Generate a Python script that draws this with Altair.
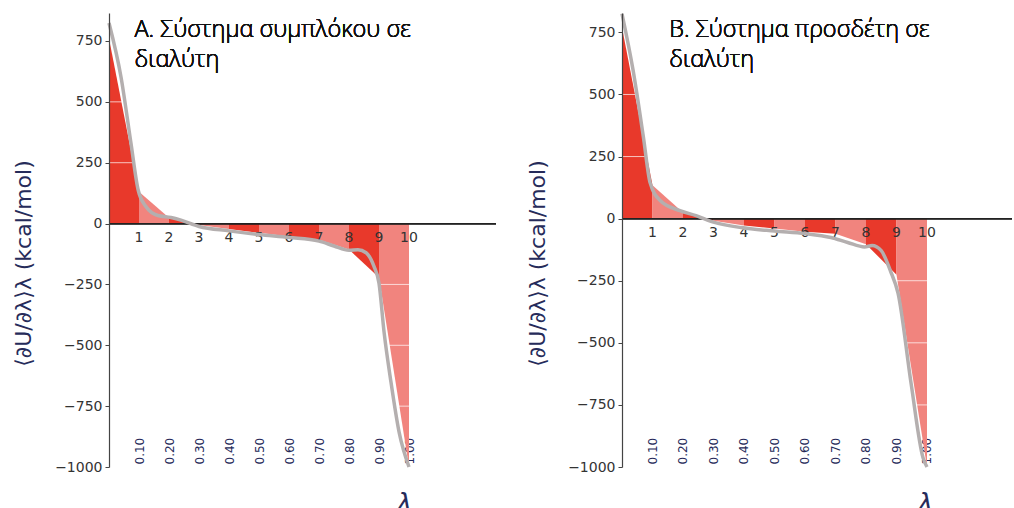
import altair as alt
import pandas as pd

# ---------------- data ----------------
lam = [0.0, 0.1, 0.2, 0.3, 0.4, 0.5, 0.6, 0.7, 0.8, 0.9, 1.0]
step_labels = ["1", "2", "3", "4", "5", "6", "7", "8", "9", "10"]
y_ticks = [-1000, -750, -500, -250, 0, 250, 500, 750]
grid_vals = [-750, -500, -250, 250, 500, 750]

# trapezoid (integration) points
a_points = [760, 131, 24, -6, -22, -38, -53, -66, -107, -222, -1000]
b_points = [770, 134, 25, -8, -28, -40, -53, -61, -103, -226, -1000]

# smooth grey curve
a_curve_lam = [0.0, 0.04, 0.073, 0.097, 0.123, 0.163, 0.207, 0.24, 0.3, 0.4, 0.5, 0.6,
               0.7, 0.75, 0.8, 0.83, 0.857, 0.883, 0.9, 0.917, 0.94, 0.967, 1.0]
a_curve_val = [824, 602, 332, 139, 70, 33, 25, 14, -12, -30, -45, -57,
               -72, -92, -110, -108, -120, -175, -245, -447, -652, -857, -1000]
b_curve_lam = [0.0, 0.036, 0.07, 0.092, 0.125, 0.19, 0.243, 0.3, 0.39, 0.5, 0.6,
               0.685, 0.74, 0.795, 0.82, 0.85, 0.88, 0.905, 0.948, 0.987, 1.0]
b_curve_val = [825, 600, 330, 145, 73, 32, 12, -14, -36, -50, -60,
               -76, -96, -114, -108, -129, -210, -300, -665, -963, -1000]

title_a = "A. Σύστημα συμπλόκου σε\nδιαλύτη"
title_b = "B. Σύστημα προσδέτη σε\nδιαλύτη"
y_title = "⟨∂U/∂λ⟩λ (kcal/mol)"

DARK = "#e8392b"
LIGHT = "#f1847e"
GREY = "#b4afaf"
NAVY = "#262b5a"
HEIGHT = 454


def panel(points, c_lam, c_val, title, y_top, width, x_max, t_lam, t_val, ypad, lam_x):
    rows = []
    for i in range(len(lam) - 1):
        shade = "dark" if i % 2 == 0 else "light"
        rows.append({"lam": lam[i], "val": points[i], "seg": i, "shade": shade})
        rows.append({"lam": lam[i + 1], "val": points[i + 1], "seg": i, "shade": shade})
    seg_df = pd.DataFrame(rows)
    curve_df = pd.DataFrame({"lam": c_lam, "val": c_val})
    lab_df = pd.DataFrame({"lam": lam[1:], "lab": step_labels})
    grid_df = pd.DataFrame({"v": grid_vals})

    xs = alt.Scale(domain=[0, x_max], nice=False, zero=False)
    ys = alt.Scale(domain=[-1000, y_top], nice=False, zero=False)

    x_axis = alt.Axis(values=lam[1:], format=".2f", labelAngle=270, labelAlign="left",
                      labelBaseline="middle", offset=-3, labelPadding=0, ticks=False,
                      domain=False, grid=False, labelFontSize=12, labelColor=NAVY,
                      labelFont="DejaVu Sans", title="λ", titleFontSize=26,
                      titleFont="DejaVu Sans", titleFontStyle="italic",
                      titleFontWeight="normal", titleColor=NAVY, titleX=lam_x,
                      titleY=26, titleBaseline="top", titleAlign="center")
    y_axis = alt.Axis(values=y_ticks, format="d", grid=False, domainColor="#444",
                      domainWidth=1.2, tickColor="#444", tickSize=4, labelFontSize=14,
                      labelColor="#333", labelFont="DejaVu Sans", labelPadding=3,
                      title=y_title, titleFontSize=22, titleFont="DejaVu Sans",
                      titleFontWeight="normal", titleColor=NAVY, titleY=250,
                      titlePadding=ypad, zindex=1)

    areas = alt.Chart(seg_df).mark_area(opacity=1).encode(
        x=alt.X("lam:Q", scale=xs, axis=x_axis),
        y=alt.Y("val:Q", scale=ys, axis=y_axis),
        y2=alt.datum(0),
        detail="seg:N",
        color=alt.Color("shade:N", scale=alt.Scale(domain=["dark", "light"],
                                                   range=[DARK, LIGHT]), legend=None),
    )
    grid = alt.Chart(grid_df).mark_rule(color="white", strokeWidth=1, opacity=0.7).encode(
        y="v:Q", x=alt.datum(0.0), x2=alt.datum(x_max))
    zero = alt.Chart(grid_df).mark_rule(color="#222", strokeWidth=1.2).encode(
        y=alt.datum(0), x=alt.datum(0.0), x2=alt.datum(x_max))
    labels = alt.Chart(lab_df).mark_text(dy=14, baseline="middle", fontSize=14,
                                         color="#333", font="DejaVu Sans").encode(
        x="lam:Q", y=alt.datum(0), text="lab:N")
    line = alt.Chart(curve_df).mark_line(color=GREY, strokeWidth=3.5,
                                         interpolate="monotone").encode(
        x="lam:Q", y="val:Q")
    ann = alt.Chart(grid_df).mark_text(align="left", baseline="alphabetic", fontSize=23.5,
                                       font="Open Sans", fontWeight=300,
                                       color="#111", lineBreak="\n",
                                       lineHeight=30).encode(
        x=alt.datum(t_lam), y=alt.datum(t_val), text=alt.value(title))
    return alt.layer(areas, grid, zero, labels, line, ann).properties(
        width=width, height=HEIGHT)


left = panel(a_points, a_curve_lam, a_curve_val, title_a, 865, 387, 1.29,
             0.085, 765, 19, 295)
right = panel(b_points, b_curve_lam, b_curve_val, title_b, 828, 390, 1.2787,
              0.155, 730, 18, 303)

chart = alt.hconcat(left, right, spacing=29).properties(
    padding={"left": 12, "top": 6, "right": 0, "bottom": 0},
    background="white",
).configure_view(stroke=None)

chart.save("out.html", embed_options={"renderer": "svg", "actions": False})
